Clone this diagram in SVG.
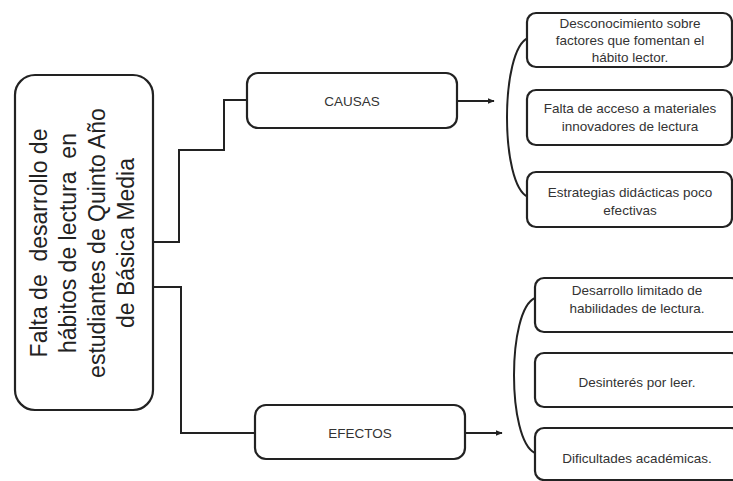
<svg xmlns="http://www.w3.org/2000/svg" width="733" height="481" viewBox="0 0 733 481">
<style>
.box{fill:#fff;stroke:#222;stroke-width:2.2}
.ln{fill:none;stroke:#222;stroke-width:2}
.t{font-family:"Liberation Sans",Arial,sans-serif;font-size:13.5px;fill:#333;text-anchor:middle}
.m{font-family:"Liberation Sans",Arial,sans-serif;font-size:23px;fill:#222;text-anchor:middle;white-space:pre}
</style>
<defs>
<marker id="ah" viewBox="0 0 10 10" refX="9" refY="5" markerWidth="7" markerHeight="7" orient="auto" markerUnits="userSpaceOnUse">
<path d="M0,1 L10,5 L0,9 z" fill="#222"/>
</marker>
</defs>
<rect width="733" height="481" fill="#fff"/>
<g id="connectors">
<path class="ln" d="M153,242 H179 V150 H224 V100 H247"/>
<path class="ln" d="M153,287 H181 V433 H255"/>
<path class="ln" d="M457,101 H494" marker-end="url(#ah)"/>
<path class="ln" d="M465,433 H502" marker-end="url(#ah)"/>
<path class="ln" d="M528,38 C500,50 500,185 528,197"/>
<path class="ln" d="M535,298 C507,310 507,440 535,453"/>
</g>
<g id="main">
<rect class="box" x="15" y="75" width="138" height="335" rx="20"/>
<g transform="translate(84,243) rotate(-90)">
<text class="m" x="0" y="-37">Falta de  desarrollo de</text>
<text class="m" x="0" y="-8">hábitos de lectura  en</text>
<text class="m" x="0" y="21">estudiantes de Quinto Año</text>
<text class="m" x="0" y="50">de Básica Media</text>
</g>
</g>
<g id="causas">
<rect class="box" x="247" y="73" width="210" height="55" rx="11"/>
<text class="t" x="352" y="106">CAUSAS</text>
</g>
<g id="efectos">
<rect class="box" x="255" y="405" width="210" height="54" rx="11"/>
<text class="t" x="360" y="438">EFECTOS</text>
</g>
<g id="causa1">
<rect class="box" x="527" y="13" width="205" height="54" rx="9"/>
<text class="t" x="630" y="28">Desconocimiento sobre</text>
<text class="t" x="630" y="45">factores que fomentan el</text>
<text class="t" x="630" y="62">hábito lector.</text>
</g>
<g id="causa2">
<rect class="box" x="527" y="90" width="205" height="55" rx="9"/>
<text class="t" x="630" y="113">Falta de acceso a materiales</text>
<text class="t" x="630" y="131">innovadores de lectura</text>
</g>
<g id="causa3">
<rect class="box" x="527" y="172" width="205" height="55" rx="9"/>
<text class="t" x="630" y="197">Estrategias didácticas poco</text>
<text class="t" x="630" y="215">efectivas</text>
</g>
<g id="efecto1">
<rect class="box" x="535" y="278" width="205" height="54" rx="9"/>
<text class="t" x="637" y="295">Desarrollo limitado de</text>
<text class="t" x="637" y="313">habilidades de lectura.</text>
</g>
<g id="efecto2">
<rect class="box" x="535" y="353" width="205" height="54" rx="9"/>
<text class="t" x="637" y="387">Desinterés por leer.</text>
</g>
<g id="efecto3">
<rect class="box" x="535" y="428" width="205" height="52" rx="9"/>
<text class="t" x="637" y="463">Dificultades académicas.</text>
</g>
</svg>
